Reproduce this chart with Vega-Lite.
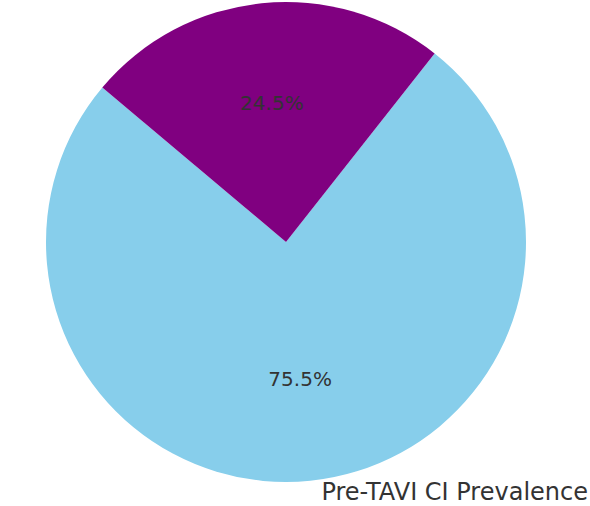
{
  "$schema": "https://vega.github.io/schema/vega-lite/v6.json",
  "width": 572,
  "height": 484,
  "padding": 0,
  "background": "white",
  "view": {"stroke": null},
  "title": {
    "text": "Pre-TAVI CI Prevalence",
    "orient": "bottom",
    "anchor": "end",
    "dx": 16,
    "offset": -3,
    "font": "DejaVu Sans",
    "fontSize": 24,
    "fontWeight": "normal",
    "color": "#333333"
  },
  "data": {
    "values": [
      {"category": "No CI", "value": 75.5, "label": "75.5%", "ord": 1},
      {"category": "CI", "value": 24.5, "label": "24.5%", "ord": 2}
    ]
  },
  "encoding": {
    "theta": {"field": "value", "type": "quantitative", "stack": true, "scale": {"range": [0.668, 6.951]}},
    "order": {"field": "ord", "type": "quantitative"},
    "color": {
      "field": "category",
      "type": "nominal",
      "scale": {"domain": ["No CI", "CI"], "range": ["#87CEEB", "#800080"]},
      "legend": null
    }
  },
  "layer": [
    {"mark": {"type": "arc", "outerRadius": 240}},
    {
      "mark": {"type": "text", "radius": 139, "font": "DejaVu Sans", "fontSize": 20, "fill": "#333333"},
      "encoding": {"text": {"field": "label"}}
    }
  ]
}
